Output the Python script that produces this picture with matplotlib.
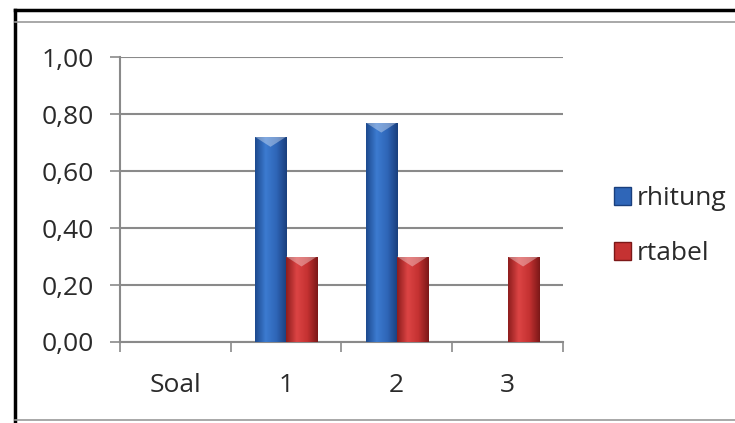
import numpy as np
import matplotlib.pyplot as plt
from matplotlib.colors import LinearSegmentedColormap
from matplotlib.lines import Line2D
from matplotlib.patches import Rectangle

# data
categories = ['Soal', '1', '2', '3']
rhitung = [0.0, 0.72, 0.77, 0.0]
rtabel = [0.0, 0.30, 0.30, 0.30]
yticks = [0.0, 0.2, 0.4, 0.6, 0.8, 1.0]

plt.rcParams['font.family'] = ['Open Sans', 'DejaVu Sans']

fig = plt.figure(figsize=(7.35, 4.23), dpi=100)
ax = fig.add_axes([0.163, 0.1915, 0.603, 0.6735])

x = np.arange(len(categories))
w = 0.28

blue_cmap = LinearSegmentedColormap.from_list('b', ['#1d4a8f', '#3c7bd0', '#2f66b8', '#1a3f7d'])
red_cmap = LinearSegmentedColormap.from_list('r', ['#8e1d1d', '#dc4444', '#c53232', '#7c1818'])

grad = np.linspace(0, 1, 64).reshape(1, -1)


def gradient_bars(bars, cmap):
    for b in bars:
        h = b.get_height()
        if h <= 0:
            continue
        x0 = b.get_x()
        bw = b.get_width()
        im = ax.imshow(grad, cmap=cmap, aspect='auto', zorder=3,
                       extent=[x0, x0 + bw, 0, h])
        im.set_clip_path(b)
        # light bevel on top
        ax.add_patch(plt.Polygon([[x0, h], [x0 + bw, h], [x0 + bw / 2, h - 0.035]],
                                 closed=True, color='white', alpha=0.35, lw=0, zorder=4))


b1 = ax.bar(x - w / 2, rhitung, w, color='none', edgecolor='none', zorder=3, label='rhitung')
b2 = ax.bar(x + w / 2, rtabel, w, color='none', edgecolor='none', zorder=3, label='rtabel')
gradient_bars(b1, blue_cmap)
gradient_bars(b2, red_cmap)

ax.set_xlim(-0.5, 3.5)
ax.set_ylim(0, 1.0)
ax.set_yticks(yticks)
ax.set_yticklabels([f'{v:.2f}'.replace('.', ',') for v in yticks])
ax.set_xticks(x)
ax.set_xticklabels(categories)
ax.set_xticks(np.arange(-0.5, 4.0, 1.0), minor=True)

ax.yaxis.grid(True, color='#8a8a8a', lw=1.5)
ax.set_axisbelow(True)
for s in ['top', 'right']:
    ax.spines[s].set_visible(False)
for s in ['left', 'bottom']:
    ax.spines[s].set_color('#8a8a8a')
    ax.spines[s].set_linewidth(1.5)

ax.tick_params(axis='y', length=7, width=1.2, color='#8a8a8a', pad=12,
               labelsize=19, labelcolor='#2a2a2a')
ax.tick_params(axis='x', which='major', length=0, pad=22, labelsize=19, labelcolor='#2a2a2a')
ax.tick_params(axis='x', which='minor', length=7, width=1.2, color='#8a8a8a')

# legend entries
legend_handles = [Rectangle((0, 0), 1, 1, facecolor='#2f66b8', edgecolor='#1a3f7d'),
                  Rectangle((0, 0), 1, 1, facecolor='#c53232', edgecolor='#7c1818')]
fig.legend(legend_handles, ['rhitung', 'rtabel'], loc='center left',
           bbox_to_anchor=(0.81, 0.465), frameon=False, fontsize=19,
           handlelength=0.65, handleheight=0.65, handletextpad=0.2,
           labelspacing=1.15, labelcolor='#2a2a2a', borderpad=0.2)

# outer frame like the spreadsheet chart box
fig.add_artist(Line2D([0.021, 0.021], [0.0, 0.976], color='black', lw=2.5))
fig.add_artist(Line2D([0.021, 1.0], [0.976, 0.976], color='black', lw=2.5))
fig.add_artist(Line2D([0.021, 1.0], [0.948, 0.948], color='#999999', lw=1.2))
fig.add_artist(Line2D([0.021, 1.0], [0.006, 0.006], color='#999999', lw=1.2))

fig.savefig('out.png', dpi=100)
